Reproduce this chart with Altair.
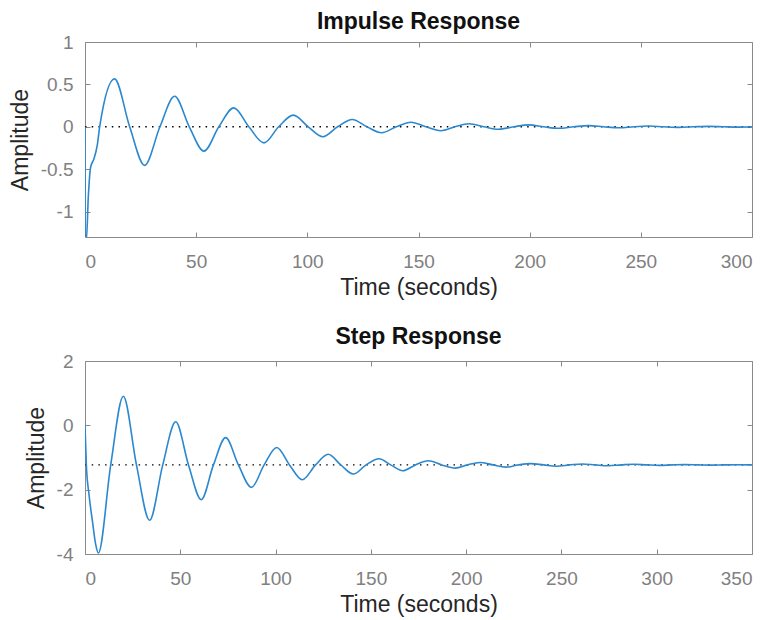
import altair as alt
import pandas as pd

# ---------------- data ----------------
impulse_t = [0, 0.05, 0.6, 1.5, 2.5, 4.0, 5.5, 6.6, 13.3, 20.1, 26.8, 33.7, 40.3, 46.9,
             53.5, 60.2, 66.9, 73.7, 80.5, 87.1, 93.7, 100.4, 107.0, 113.6, 120.2, 126.8,
             133.4, 140.0, 146.6, 153.3, 160.0, 166.4, 172.8, 179.4, 186.0, 192.8, 199.6,
             206.3, 213.0, 219.8, 226.5, 233.2, 240.0, 246.8, 253.5, 260.2, 267.0, 273.8,
             280.5, 287.2, 294.0, 300.0]
impulse_v = [0, -1.32, -1.34, -0.82, -0.48, -0.38, -0.22, 0, 0.565, 0, -0.455, 0, 0.36, 0,
             -0.287, 0, 0.223, 0, -0.19, 0, 0.137, 0, -0.118, 0, 0.086, 0,
             -0.07, 0, 0.054, 0, -0.046, 0, 0.035, 0, -0.029, 0, 0.022,
             0, -0.018, 0, 0.014, 0, -0.011, 0, 0.009, 0, -0.007, 0,
             0.005, 0, -0.004, 0]

step_t = [0, 0.7, 2.1, 3.9, 5.6, 7.0, 13.5, 20.1, 27.0, 33.9, 40.8, 47.6, 54.3, 61.0,
          67.4, 73.8, 80.5, 87.3, 94.0, 100.6, 107.3, 114.0, 121.0, 127.6, 134.2, 140.8,
          147.5, 154.3, 160.4, 166.7, 173.4, 180.1, 187.2, 194.3, 200.7, 207.2, 214.0,
          220.8, 227.4, 233.9, 240.7, 247.5, 254.3, 261.0, 267.8, 274.5, 281.3, 288.0,
          294.8, 301.5, 308.2, 315.0, 321.7, 328.5, 335.2, 342.0, 350.0]
step_v = [0, -1.23, -2.15, -2.98, -3.7, -3.97, -1.23, 0.905, -1.23, -2.95, -1.23, 0.11, -1.23, -2.31,
          -1.23, -0.383, -1.23, -1.93, -1.23, -0.69, -1.23, -1.69, -1.23, -0.9, -1.23, -1.515,
          -1.23, -1.04, -1.23, -1.41, -1.23, -1.10, -1.23, -1.33, -1.23, -1.155, -1.23,
          -1.30, -1.23, -1.19, -1.23, -1.27, -1.23, -1.20, -1.23, -1.255, -1.23, -1.21,
          -1.23, -1.245, -1.23, -1.22, -1.23, -1.238, -1.23, -1.225, -1.23]

impulse_final = 0.0
step_final = -1.23

impulse_xticks = [0, 50, 100, 150, 200, 250, 300]
impulse_yticks = [-1, -0.5, 0, 0.5, 1]
step_xticks = [0, 50, 100, 150, 200, 250, 300, 350]
step_yticks = [-4, -2, 0, 2]

impulse_xdomain = [0, 300]
impulse_ydomain = [-1.3, 1]
step_xdomain = [0, 350]
step_ydomain = [-4, 2]

FONT = "Liberation Sans"
LINE_COLOR = "#2b88cf"
GRAY = "#8a8a8a"

AXIS_STYLE = dict(labelFont=FONT, titleFont=FONT, labelFontSize=19, titleFontSize=23,
                  labelColor="#808080", titleColor="#262626", titleFontWeight="normal",
                  offset=-5, tickSize=5, domain=False, grid=False,
                  tickColor=GRAY, tickWidth=1)


def panel(ts, vs, final, xdomain, ydomain, xticks, yticks, title, height, title_offset):
    line_df = pd.DataFrame({"t": ts, "v": vs})
    ss_df = pd.DataFrame({"t": xdomain, "v": [final, final]})
    xs = alt.Scale(domain=xdomain, nice=False, zero=False)
    ys = alt.Scale(domain=ydomain, nice=False, zero=False)
    line = alt.Chart(line_df).mark_line(
        interpolate="monotone", clip=True, color=LINE_COLOR, strokeWidth=1.6
    ).encode(
        x=alt.X("t:Q", scale=xs, axis=alt.Axis(
            orient="bottom", values=xticks, title="Time (seconds)",
            labelExpr="'' + datum.value", labelPadding=15, titlePadding=5, **AXIS_STYLE)),
        y=alt.Y("v:Q", scale=ys, axis=alt.Axis(
            orient="left", values=yticks, title="Amplitude",
            labelExpr="'' + datum.value", labelPadding=12, titlePadding=8, **AXIS_STYLE)),
    )
    ss = alt.Chart(ss_df).mark_line(
        color="#000000", strokeWidth=1.4, strokeDash=[1.5, 5.2], clip=True
    ).encode(
        x=alt.X("t:Q", scale=xs, axis=alt.Axis(
            orient="top", values=xticks, labels=False, title=None, **AXIS_STYLE)),
        y=alt.Y("v:Q", scale=ys, axis=alt.Axis(
            orient="right", values=yticks, labels=False, title=None, **AXIS_STYLE)),
    )
    return alt.layer(ss, line).resolve_axis(x="independent", y="independent").properties(
        width=667, height=height,
        title=alt.TitleParams(title, fontSize=23, fontWeight="bold", font=FONT,
                              color="#111111", anchor="middle", frame="group",
                              offset=title_offset),
    )


top = panel(impulse_t, impulse_v, impulse_final, impulse_xdomain, impulse_ydomain,
            impulse_xticks, impulse_yticks, "Impulse Response", 195, -1)
bottom = panel(step_t, step_v, step_final, step_xdomain, step_ydomain,
               step_xticks, step_yticks, "Step Response", 193, 3)

chart = alt.vconcat(top, bottom, spacing=25).properties(
    padding={"top": 2, "left": 0, "right": 0, "bottom": 0}, background="white"
).configure_view(stroke=GRAY, strokeWidth=1)

chart.save("out.html", embed_options={"renderer": "svg", "actions": False})
